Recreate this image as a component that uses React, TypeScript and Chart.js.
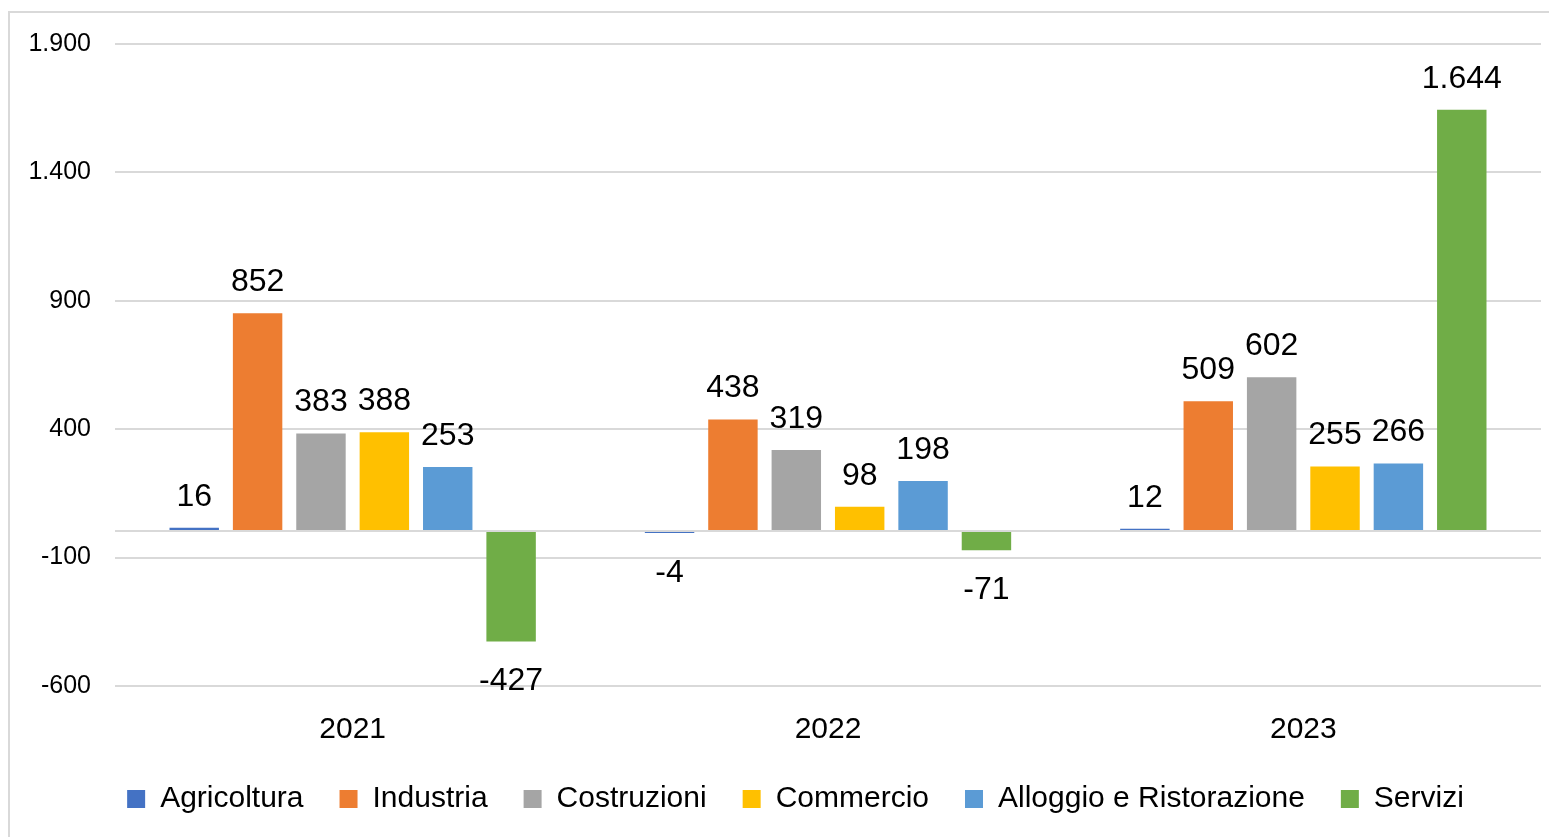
import React, { useEffect, useRef } from "react";
import { Chart, registerables } from "chart.js";

Chart.register(...registerables);

const categories = ["2021", "2022", "2023"];
const seriesNames = [
  "Agricoltura",
  "Industria",
  "Costruzioni",
  "Commercio",
  "Alloggio e Ristorazione",
  "Servizi",
];
const agricoltura = [16, -4, 12];
const industria = [852, 438, 509];
const costruzioni = [383, 319, 602];
const commercio = [388, 98, 255];
const alloggio = [253, 198, 266];
const servizi = [-427, -71, 1644];
const seriesColors = ["#4472C4", "#ED7D31", "#A5A5A5", "#FFC000", "#5B9BD5", "#70AD47"];
const yMin = -600;
const yMax = 1900;
const yStep = 500;

const FONT = "'Liberation Sans', Arial, sans-serif";

function fmt(v: number): string {
  const neg = v < 0;
  const s = String(Math.abs(Math.round(v)));
  const withDots = s.replace(/\B(?=(\d{3})+(?!\d))/g, ".");
  return (neg ? "-" : "") + withDots;
}

const zeroLinePlugin = {
  id: "zeroLine",
  afterDatasetsDraw(chart: any) {
    const { ctx, chartArea, scales } = chart;
    const y = scales.y.getPixelForValue(0);
    ctx.save();
    ctx.strokeStyle = "#d9d9d9";
    ctx.lineWidth = 2;
    ctx.beginPath();
    ctx.moveTo(chartArea.left, y - 1);
    ctx.lineTo(chartArea.right, y - 1);
    ctx.stroke();
    ctx.restore();
  },
};

const dataLabelPlugin = {
  id: "dataLabels",
  afterDatasetsDraw(chart: any) {
    const { ctx } = chart;
    ctx.save();
    ctx.font = `32px ${FONT}`;
    ctx.fillStyle = "#000000";
    ctx.textAlign = "center";
    ctx.textBaseline = "middle";
    chart.data.datasets.forEach((ds: any, di: number) => {
      const meta = chart.getDatasetMeta(di);
      meta.data.forEach((bar: any, i: number) => {
        const v = ds.data[i];
        const { x, y, base } = bar.getProps(["x", "y", "base"], true);
        const ty = v >= 0 ? Math.min(y, base) - 31 : Math.max(y, base) + 40;
        ctx.fillText(fmt(v), x, ty);
      });
    });
    ctx.restore();
  },
};

const legendShiftPlugin = {
  id: "legendShift",
  afterLayout(chart: any) {
    const lg = chart.legend;
    if (lg) {
      lg.left += 25;
      lg.right += 25;
      lg.top += 2;
      lg.bottom += 2;
    }
  },
};

export default function App() {
  const canvasRef = useRef<HTMLCanvasElement | null>(null);

  useEffect(() => {
    const canvas = canvasRef.current;
    if (!canvas) return;
    const values = [agricoltura, industria, costruzioni, commercio, alloggio, servizi];
    const chart = new Chart(canvas, {
      type: "bar",
      data: {
        labels: categories,
        datasets: seriesNames.map((name, i) => ({
          label: name,
          data: values[i],
          backgroundColor: seriesColors[i],
          borderWidth: 0,
          categoryPercentage: 0.8,
          barPercentage: 0.78,
        })),
      },
      options: {
        animation: false,
        responsive: true,
        maintainAspectRatio: false,
        layout: { padding: { left: 0, right: 8, top: 44, bottom: 15 } },
        plugins: {
          tooltip: { enabled: false },
          legend: {
            position: "bottom",
            labels: {
              boxWidth: 18,
              boxHeight: 18,
              padding: 36,
              color: "#000000",
              font: { family: FONT, size: 30 },
            },
          },
        },
        scales: {
          x: {
            grid: { display: false, drawTicks: false },
            border: { display: false },
            ticks: {
              padding: 26,
              color: "#000000",
              font: { family: FONT, size: 30 },
            },
            afterFit(scale: any) {
              scale.height = 60;
            },
          },
          y: {
            min: yMin,
            max: yMax,
            grid: { color: "#d9d9d9", lineWidth: 2, drawTicks: false },
            border: { display: false },
            ticks: {
              stepSize: yStep,
              padding: 24,
              color: "#000000",
              font: { family: FONT, size: 25 },
              callback: (v: any) => fmt(Number(v)),
            },
            afterFit(scale: any) {
              scale.width = 115;
            },
          },
        },
      },
      plugins: [zeroLinePlugin, dataLabelPlugin, legendShiftPlugin],
    });
    return () => chart.destroy();
  }, []);

  return (
    <div
      style={{
        position: "fixed",
        left: 0,
        top: 0,
        width: 1549,
        height: 837,
        overflow: "hidden",
        background: "#ffffff",
      }}
    >
      <div
        style={{
          position: "absolute",
          left: 8,
          top: 11,
          width: 1700,
          height: 1000,
          border: "2px solid #d9d9d9",
          boxSizing: "border-box",
        }}
      />
      <div style={{ position: "absolute", left: 0, top: 0, width: 1549, height: 837 }}>
        <canvas ref={canvasRef} />
      </div>
    </div>
  );
}
